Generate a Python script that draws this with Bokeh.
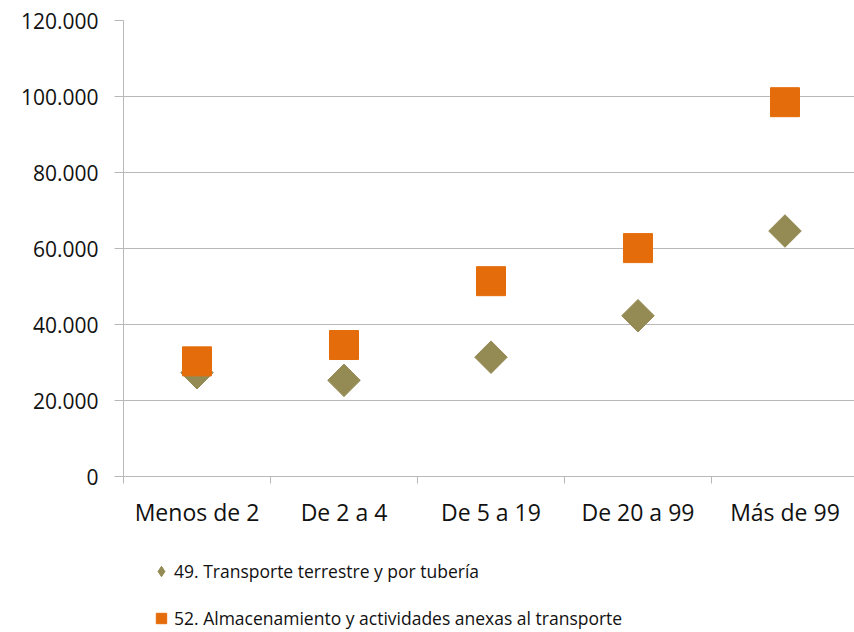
import math
from bokeh.plotting import figure
from bokeh.layouts import column
from bokeh.models import Range1d, FixedTicker, Legend, LegendItem, ColumnDataSource
from bokeh.embed import file_html
from bokeh.resources import INLINE

categories = ["Menos de 2", "De 2 a 4", "De 5 a 19", "De 20 a 99", "Más de 99"]
serie_49 = [27300, 25300, 31400, 42300, 64600]
serie_52 = [30300, 34600, 51400, 60100, 98500]
name_49 = "49. Transporte terrestre y por tubería"
name_52 = "52. Almacenamiento y actividades anexas al transporte"
y_ticks = [0, 20000, 40000, 60000, 80000, 100000, 120000]
y_tick_labels = ["0", "20.000", "40.000", "60.000", "80.000", "100.000", "120.000"]

OLIVE = "#948A54"
ORANGE = "#E46C0A"
GRID = "#B8B8B8"
TEXT = "#111111"
FONT = "Open Sans"

xpos = [i + 0.5 for i in range(len(categories))]
src = ColumnDataSource(dict(x=xpos, a=serie_49, b=serie_52))

p = figure(width=854, height=536, output_backend="svg", toolbar_location=None,
           x_range=Range1d(0, len(categories) - 0.027), y_range=Range1d(0, 120000),
           min_border_left=123, min_border_right=0, min_border_top=20, min_border_bottom=60)
p.outline_line_color = None
p.background_fill_color = "white"
p.border_fill_color = "white"

# y axis
p.yaxis.ticker = FixedTicker(ticks=y_ticks, minor_ticks=[])
p.yaxis.major_label_overrides = {t: l for t, l in zip(y_ticks, y_tick_labels)}
p.yaxis.axis_line_color = GRID
p.yaxis.major_tick_line_color = GRID
p.yaxis.major_tick_out = 9
p.yaxis.major_tick_in = 0
p.yaxis.major_label_standoff = 16
p.yaxis.major_label_text_font = FONT
p.yaxis.major_label_text_font_size = "21px"
p.yaxis.major_label_text_color = TEXT

# x axis: labels centred, tick marks at category boundaries
p.xaxis.ticker = FixedTicker(ticks=xpos, minor_ticks=list(range(len(categories) + 1)))
p.xaxis.major_label_overrides = {x: c for x, c in zip(xpos, categories)}
p.xaxis.axis_line_color = GRID
p.xaxis.major_tick_line_color = None
p.xaxis.major_tick_out = 7
p.xaxis.major_tick_in = 0
p.xaxis.minor_tick_line_color = GRID
p.xaxis.minor_tick_out = 7
p.xaxis.minor_tick_in = 0
p.xaxis.major_label_standoff = 12
p.xaxis.major_label_text_font = FONT
p.xaxis.major_label_text_font_size = "23px"
p.xaxis.major_label_text_color = TEXT

p.xgrid.visible = False
p.ygrid.grid_line_color = GRID
p.ygrid.ticker = FixedTicker(ticks=y_ticks)

p.scatter("x", "a", source=src, marker="square", angle=math.pi / 4, size=23,
          fill_color=OLIVE, line_color=OLIVE)
p.scatter("x", "b", source=src, marker="square", size=29,
          fill_color=ORANGE, line_color=ORANGE)

# legend strip below the chart (its own figure; data lie outside its view)
lg = figure(width=854, height=96, output_backend="svg", toolbar_location=None,
            x_range=Range1d(0, 1), y_range=Range1d(0, 1),
            x_axis_location=None, y_axis_location=None,
            min_border_left=0, min_border_right=0, min_border_top=0, min_border_bottom=0)
lg.outline_line_color = None
lg.xgrid.visible = False
lg.ygrid.visible = False
l1 = lg.scatter("x", "a", source=src, marker="diamond", size=12,
                fill_color=OLIVE, line_color=OLIVE)
l2 = lg.scatter("x", "b", source=src, marker="square", size=12,
                fill_color=ORANGE, line_color=ORANGE)

legend = Legend(items=[LegendItem(label=name_49, renderers=[l1]),
                       LegendItem(label=name_52, renderers=[l2])],
                location=(25, 1), orientation="vertical",
                border_line_color=None, background_fill_alpha=0,
                padding=0, margin=0, spacing=21, glyph_width=26, glyph_height=26,
                label_height=26, label_standoff=0,
                label_text_font=FONT, label_text_font_size="17.5px",
                label_text_color=TEXT)
lg.add_layout(legend)

layout = column(p, lg, spacing=0)
open("out.html", "w").write(file_html(layout, INLINE))
